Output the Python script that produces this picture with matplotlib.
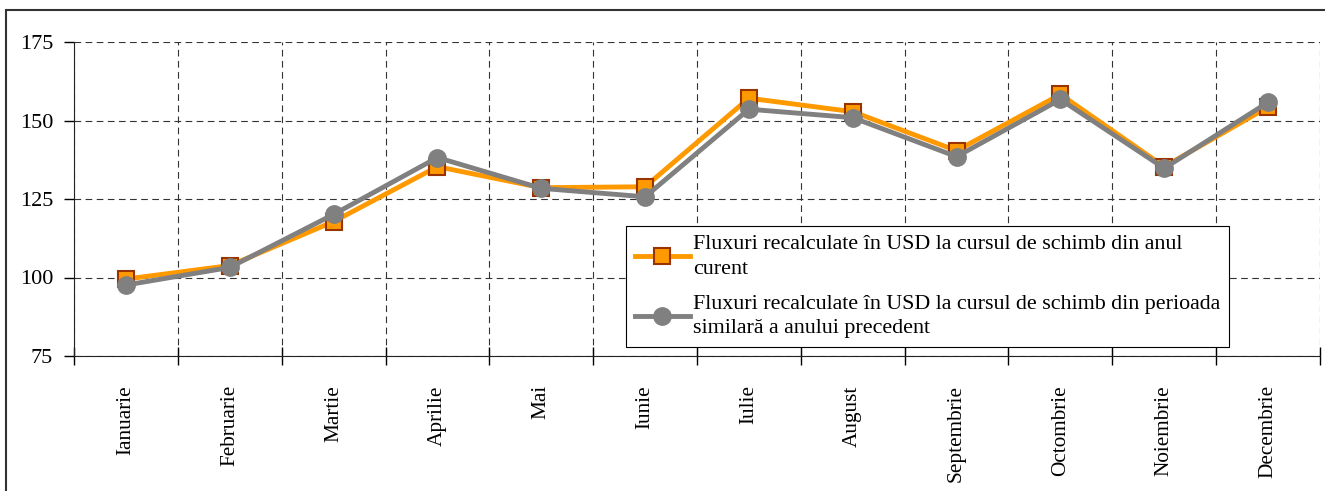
import matplotlib
matplotlib.use("Agg")
import matplotlib.pyplot as plt
from matplotlib.patches import Rectangle

plt.rcParams['font.family'] = ['Liberation Serif', 'DejaVu Serif']
plt.rcParams['font.size'] = 16

luni = ["Ianuarie", "Februarie", "Martie", "Aprilie", "Mai", "Iunie",
        "Iulie", "August", "Septembrie", "Octombrie", "Noiembrie", "Decembrie"]
anul_curent = [99.5, 103.8, 117.8, 135.3, 128.6, 128.9,
               157.1, 152.8, 140.4, 158.3, 135.3, 154.3]
anul_precedent = [97.6, 103.2, 120.1, 138.2, 128.4, 125.7,
                  153.6, 150.9, 138.5, 156.7, 134.8, 155.8]
eticheta_curent = "Fluxuri recalculate în USD la cursul de schimb din anul\ncurent"
eticheta_precedent = ("Fluxuri recalculate în USD la cursul de schimb din perioada\n"
                      "similară a anului precedent")

fig = plt.figure(figsize=(13.25, 4.91), dpi=100)
ax = fig.add_axes([74 / 1325, 1 - 356 / 491, 1246 / 1325, 314 / 491])

# chenarul exterior
fig.patches.append(Rectangle((6 / 1325, -0.1), 1.2, 1.1 - 10 / 491,
                             transform=fig.transFigure, fill=False,
                             edgecolor="#333333", linewidth=1.5))

x = range(len(luni))
ax.plot(x, anul_curent, color="#FF9900", linewidth=3.5, marker="s", markersize=11.5,
        markerfacecolor="#FF9900", markeredgecolor="#993300", markeredgewidth=1.5,
        label=eticheta_curent, zorder=3)
ax.plot(x, anul_precedent, color="#808080", linewidth=3.5, marker="o", markersize=12.5,
        markerfacecolor="#808080", markeredgecolor="#808080",
        label=eticheta_precedent, zorder=4)

ax.set_xlim(-0.5, len(luni) - 0.5)
ax.set_ylim(75, 175)
ax.set_yticks([75, 100, 125, 150, 175])

ax.set_xticks([i - 0.5 for i in range(len(luni) + 1)])
ax.set_xticklabels([])
ax.set_xticks(list(x), minor=True)
ax.set_xticklabels(luni, minor=True, rotation=90, fontsize=15.3)
ax.tick_params(axis="x", which="major", direction="inout", length=13, width=1)
ax.tick_params(axis="x", which="minor", length=0, pad=21)
ax.tick_params(axis="y", direction="out", length=7, width=1, pad=8)

ax.grid(True, which="major", color="#333333", linestyle=(0, (6, 4)), linewidth=0.8)
ax.spines["top"].set_visible(False)
ax.spines["right"].set_visible(False)
ax.spines["left"].set_color("#222222")
ax.spines["bottom"].set_color("#222222")

leg = ax.legend(loc="lower left", bbox_to_anchor=(0.443, 0.029), borderaxespad=0,
                fancybox=False, framealpha=1, edgecolor="black", handlelength=2.5,
                borderpad=0.4, labelspacing=0.72, handletextpad=0.15,
                prop={"size": 15.8})
leg.get_frame().set_linewidth(0.8)
for t in leg.get_texts():
    t.set_linespacing(1.4)

fig.savefig("out.png", dpi=100)
